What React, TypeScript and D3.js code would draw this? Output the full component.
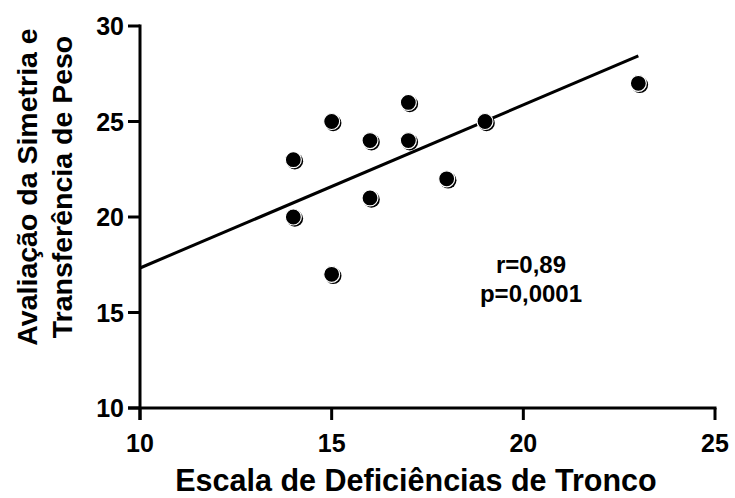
import React from 'react';
import * as d3 from 'd3';

const xValues = [14, 14, 15, 15, 16, 16, 17, 17, 18, 19, 23];
const yValues = [23, 20, 25, 17, 24, 21, 26, 24, 22, 25, 27];
const lineX = [10, 23];
const lineY = [17.33, 28.43];
const xTicks = [10, 15, 20, 25];
const yTicks = [10, 15, 20, 25, 30];
const statLines = ['r=0,89', 'p=0,0001'];

const W = 735;
const H = 498;
const font = '"Liberation Sans", Arial, sans-serif';

const App: React.FC = () => {
  const x = d3.scaleLinear().domain([10, 25]).range([140, 715]);
  const y = d3.scaleLinear().domain([10, 30]).range([408, 26]);
  const line = d3.line<number>().x((d) => x(d)).y((_, i) => y(lineY[i]));

  return (
    <svg width={W} height={H} style={{ position: 'absolute', left: 0, top: 0 }} fontFamily={font} fontWeight="bold">
      <rect width={W} height={H} fill="#fff" />
      {/* axes */}
      <line x1={x(10)} x2={x(10)} y1={y(30) - 1.5} y2={y(10) + 12} stroke="#000" strokeWidth={3} />
      <line x1={x(10) - 12} x2={x(25) + 1.5} y1={y(10)} y2={y(10)} stroke="#000" strokeWidth={3} />
      {yTicks.map((t) => (
        <g key={'y' + t}>
          <line x1={x(10) - 12} x2={x(10)} y1={y(t)} y2={y(t)} stroke="#000" strokeWidth={3} />
          <text x={x(10) - 16} y={y(t)} dy="0.36em" textAnchor="end" fontSize={25}>{t}</text>
        </g>
      ))}
      {xTicks.map((t) => (
        <g key={'x' + t}>
          <line x1={x(t)} x2={x(t)} y1={y(10)} y2={y(10) + 12} stroke="#000" strokeWidth={3} />
          <text x={x(t)} y={y(10) + 44} textAnchor="middle" fontSize={25}>{t}</text>
        </g>
      ))}
      {/* regression line */}
      <path d={line(lineX) || ''} fill="none" stroke="#000" strokeWidth={3} />
      {/* points */}
      {xValues.map((v, i) => (
        <g key={i}>
          <circle cx={x(v) + 1.5} cy={y(yValues[i]) + 1.5} r={8.3} fill="#000" />
          <circle cx={x(v)} cy={y(yValues[i])} r={8} fill="#000" stroke="#fff" strokeWidth={1.2} />
        </g>
      ))}
      {/* stats */}
      {statLines.map((s, i) => (
        <text key={s} x={531} y={273 + i * 29} textAnchor="middle" fontSize={24}>{s}</text>
      ))}
      {/* titles */}
      <text x={416} y={491} textAnchor="middle" fontSize={30.5}>Escala de Deficiências de Tronco</text>
      <text transform="translate(37,187) rotate(-90)" textAnchor="middle" fontSize={28.5}>
        <tspan x={0} dy={0}>Avaliação da Simetria e</tspan>
        <tspan x={0} dy={35}>Transferência de Peso</tspan>
      </text>
    </svg>
  );
};

export default App;
